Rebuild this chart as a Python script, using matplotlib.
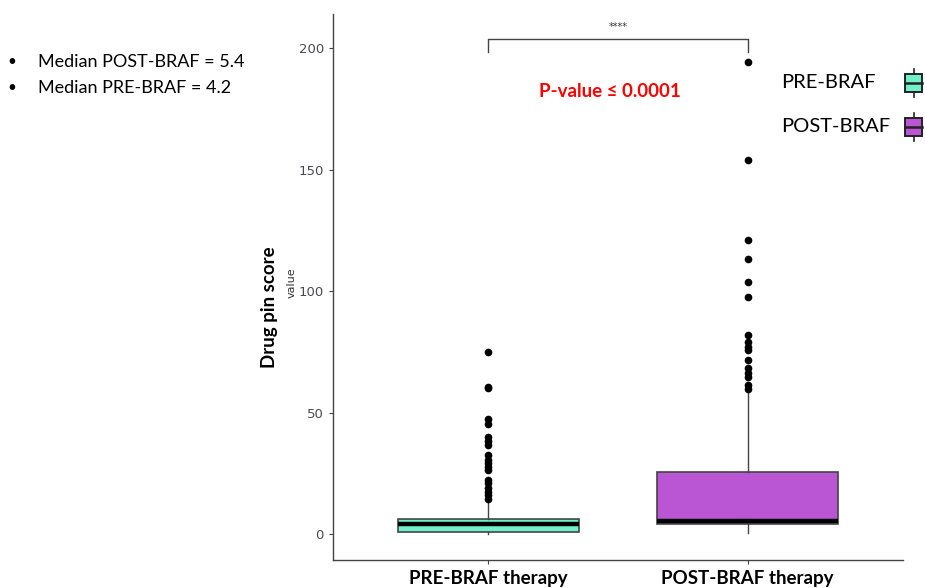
import matplotlib.pyplot as plt
from matplotlib.patches import Rectangle
from matplotlib.lines import Line2D

# values
groups = ["PRE-BRAF therapy", "POST-BRAF therapy"]
legend_names = ["PRE-BRAF", "POST-BRAF"]
colors = ["#72F0C9", "#BA55D3"]

pre_q1, pre_med, pre_q3 = 0.8, 4.2, 6.2
pre_lo, pre_hi = 0.0, 14.0
pre_out = [75.0, 60.6, 60.0, 47.3, 45.3, 39.8, 38.4, 36.6, 32.5, 30.5,
           29.1, 27.7, 26.3, 22.2, 20.9, 18.8, 17.4, 16.0, 14.6]

post_q1, post_med, post_q3 = 4.0, 5.4, 25.4
post_lo, post_hi = 0.3, 58.6
post_out = [194.2, 153.9, 121.0, 113.2, 103.6, 97.7, 81.9, 79.1, 77.1,
            75.7, 71.6, 68.2, 66.1, 64.5, 61.3, 59.5]

yticks = [0, 50, 100, 150, 200]
notes = ["Median POST-BRAF = 5.4", "Median PRE-BRAF = 4.2"]

fig = plt.figure(figsize=(9.25, 5.88), dpi=100)
ax = fig.add_axes([333/925, 28/588, 570/925, 546/588])

stats = [
    dict(med=pre_med, q1=pre_q1, q3=pre_q3, whislo=pre_lo, whishi=pre_hi, fliers=pre_out),
    dict(med=post_med, q1=post_q1, q3=post_q3, whislo=post_lo, whishi=post_hi, fliers=post_out),
]
bp = ax.bxp(stats, positions=[1, 2], widths=0.7, patch_artist=True, showcaps=False,
            boxprops=dict(edgecolor="#444444", linewidth=1.2),
            whiskerprops=dict(color="#444444", linewidth=1),
            medianprops=dict(color="black", linewidth=3.2),
            flierprops=dict(marker="o", markerfacecolor="black", markeredgecolor="black",
                            markersize=4.5))
for patch, c in zip(bp["boxes"], colors):
    patch.set_facecolor(c)

ax.set_xlim(0.4, 2.6)
ax.set_ylim(-10.7, 214)
ax.set_yticks(yticks)
ax.set_xticks([1, 2])
ax.set_xticklabels(groups, fontsize=13.5, fontweight="bold", family="Lato")
ax.tick_params(axis="y", labelsize=9.5, colors="#444444", length=3, labelcolor="#4a4a55")
ax.tick_params(axis="x", length=3, pad=4, colors="#444444", labelcolor="black")
for s in ["top", "right"]:
    ax.spines[s].set_visible(False)
for s in ["left", "bottom"]:
    ax.spines[s].set_color("#444444")
    ax.spines[s].set_linewidth(1)

# significance bracket
ax.plot([1, 1, 2, 2], [198.4, 203.7, 203.7, 198.4], color="#444444", lw=1, clip_on=False)
ax.text(1.5, 206.5, "****", ha="center", va="bottom", fontsize=7, color="#333333")
ax.text(1.47, 182, "P-value \u2264 0.0001", ha="center", va="center", fontsize=13.5,
        fontweight="bold", color="red", family="Lato")

# axis titles
fig.text(270/925, 1 - 307/588, "Drug pin score", rotation=90, ha="center", va="center",
         fontsize=13.5, fontweight="bold", family="Lato")
fig.text(292/925, 1 - 283/588, "value", rotation=90, ha="center", va="center",
         fontsize=8, color="#333333")

# bullet notes
for i, t in enumerate(notes):
    y = 1 - (62 + i*26)/588
    fig.text(12/925, y, "\u2022", ha="center", va="center", fontsize=11, family="Lato")
    fig.text(38/925, y, t, ha="left", va="center", fontsize=13, family="Lato")

# legend with box glyphs
for i, (name, c) in enumerate(zip(legend_names, colors)):
    yc = 83 + i*44
    fig.text(781/925, 1 - yc/588, name, ha="left", va="center", fontsize=14.5, family="Lato")
    x0, x1 = 905/925, 922/925
    fig.add_artist(Rectangle((x0, 1 - (yc + 9)/588), x1 - x0, 18/588,
                             transform=fig.transFigure, facecolor=c, edgecolor="#222222", lw=1.4))
    fig.add_artist(Line2D([x0, x1], [1 - yc/588]*2, transform=fig.transFigure,
                          color="#222222", lw=1.8))
    xm = (x0 + x1)/2
    fig.add_artist(Line2D([xm, xm], [1 - (yc - 9)/588, 1 - (yc - 14)/588],
                          transform=fig.transFigure, color="#222222", lw=1.2))
    fig.add_artist(Line2D([xm, xm], [1 - (yc + 9)/588, 1 - (yc + 14)/588],
                          transform=fig.transFigure, color="#222222", lw=1.2))

fig.savefig("out.png", dpi=100)
